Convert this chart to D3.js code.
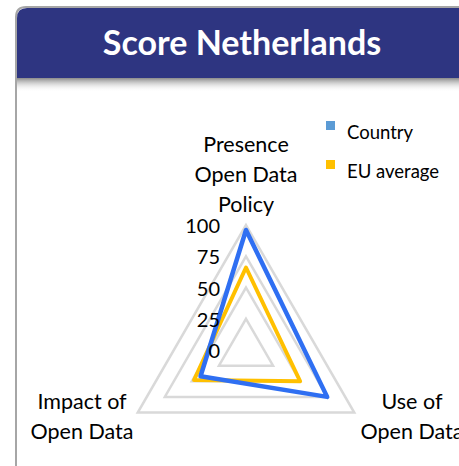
<!DOCTYPE html>
<html>
<head>
<meta charset="utf-8">
<script src="https://cdn.jsdelivr.net/npm/d3@7"></script>
<style>
  html, body { margin: 0; padding: 0; background: #fff; }
  svg { display: block; font-family: Lato, "Open Sans", sans-serif; }
</style>
</head>
<body>
<svg id="chart" width="459" height="466"></svg>
<script>
// Chart data
const axes = [["Presence", "Open Data", "Policy"], ["Use of", "Open Data"], ["Impact of", "Open Data"]];
const countryScores = [96, 75, 42];
const euScores = [66, 50, 48];
const seriesNames = ["Country", "EU average"];
const tickValues = [0, 25, 50, 75, 100];

const svg = d3.select("#chart");

// Panel with title header
const defs = svg.append("defs");
const grad = defs.append("linearGradient").attr("id", "shadow")
  .attr("x1", 0).attr("y1", 0).attr("x2", 0).attr("y2", 1);
grad.append("stop").attr("offset", 0).attr("stop-color", "#8a8a8a");
grad.append("stop").attr("offset", 1).attr("stop-color", "#fff").attr("stop-opacity", 0);

svg.append("rect")
  .attr("x", 16).attr("y", 78).attr("width", 460).attr("height", 14)
  .attr("fill", "url(#shadow)");

svg.append("path")
  .attr("d", "M16,480 L16,17 Q16,7 26,7 L470,7")
  .attr("fill", "none").attr("stroke", "#a6a6a6").attr("stroke-width", 2);

svg.append("path")
  .attr("d", "M17,78 L17,18 Q17,8 27,8 L470,8 L470,78 Z")
  .attr("fill", "#2e3581");

svg.append("text")
  .attr("x", 242).attr("y", 55)
  .attr("text-anchor", "middle")
  .attr("fill", "#fff")
  .attr("font-weight", "bold")
  .attr("font-size", 34)
  .text("Score Netherlands");

// Radar geometry
const cx = 246, cy = 350, R = 125;
const angle = d3.scalePoint().domain(d3.range(axes.length)).range([0, 2 * Math.PI * (axes.length - 1) / axes.length]);
const r = d3.scaleLinear().domain([0, 100]).range([0, R]);

const radar = d3.lineRadial()
  .angle((d, i) => angle(i))
  .radius(d => r(d))
  .curve(d3.curveLinearClosed);

const g = svg.append("g").attr("transform", `translate(${cx},${cy})`);

// Grid triangles
g.selectAll(".grid")
  .data(tickValues.filter(v => v > 0))
  .enter().append("path")
  .attr("class", "grid")
  .attr("d", v => radar(axes.map(() => v)))
  .attr("fill", "none")
  .attr("stroke", "#d9d9d9")
  .attr("stroke-width", 2.5);

// Series
const series = [
  { name: seriesNames[1], values: euScores, line: "#ffc000", key: "#ffc000", w: 4 },
  { name: seriesNames[0], values: countryScores, line: "#2f6ff2", key: "#5b9bd5", w: 4.5 }
];

g.selectAll(".series")
  .data(series)
  .enter().append("path")
  .attr("class", "series")
  .attr("d", d => radar(d.values))
  .attr("fill", "none")
  .attr("stroke", d => d.line)
  .attr("stroke-width", d => d.w)
  .attr("stroke-linejoin", "round");

// Tick labels
g.selectAll(".tick")
  .data(tickValues)
  .enter().append("text")
  .attr("class", "tick")
  .attr("x", -26)
  .attr("y", v => -r(v) + 1)
  .attr("dy", "0.35em")
  .attr("text-anchor", "end")
  .attr("font-size", 20)
  .attr("fill", "#000")
  .text(v => v);

// Axis labels
const labelPos = [
  { x: 0, y: -206 },
  { x: 166, y: 51 },
  { x: -164, y: 51 }
];
axes.forEach((lines, i) => {
  const t = g.append("text")
    .attr("text-anchor", "middle")
    .attr("font-size", 21.5)
    .attr("fill", "#000");
  lines.forEach((ln, j) => {
    t.append("tspan")
      .attr("x", labelPos[i].x)
      .attr("y", labelPos[i].y + j * 30)
      .attr("dy", "0.35em")
      .text(ln);
  });
});

// Legend
const legend = svg.append("g").attr("transform", "translate(326,121)");
const legendItems = [series[1], series[0]];
legendItems.forEach((d, i) => {
  legend.append("rect")
    .attr("x", 0).attr("y", i * 39)
    .attr("width", 9).attr("height", 9)
    .attr("fill", d.key);
  legend.append("text")
    .attr("x", 21).attr("y", i * 39 + 12)
    .attr("dy", "0.35em")
    .attr("font-size", 18.5)
    .text(d.name);
});
</script>
</body>
</html>
